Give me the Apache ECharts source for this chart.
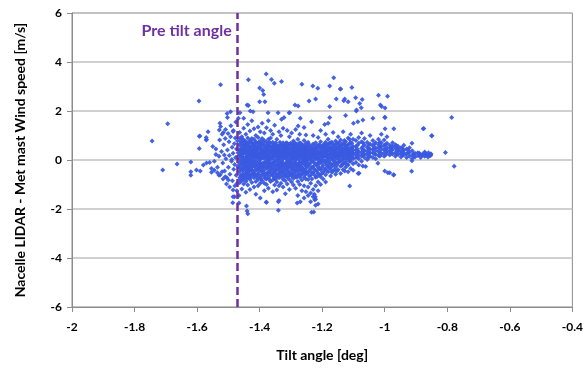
<!DOCTYPE html>
<html>
<head>
<meta charset="utf-8">
<script src="https://cdn.jsdelivr.net/npm/echarts@6/dist/echarts.min.js"></script>
<style>
  html, body { margin: 0; padding: 0; background: #fff; }
  #chart { width: 586px; height: 371px; }
</style>
</head>
<body>
<div id="chart"></div>
<script>
// Tilt angle [deg] vs. (Nacelle LIDAR - Met mast) wind speed difference [m/s]
const xTicks = [-2, -1.8, -1.6, -1.4, -1.2, -1, -0.8, -0.6, -0.4];
const yTicks = [-6, -4, -2, 0, 2, 4, 6];
const preTiltAngle = -1.467;
const preTiltLabel = 'Pre tilt angle';

// isolated points left of the main cloud
const leftPoints = [
  [-1.744,0.78],[-1.694,1.48],[-1.594,2.41],[-1.525,3.07],[-1.710,-0.41],[-1.664,-0.16],
  [-1.620,-0.08],[-1.620,-0.48],[-1.620,-0.62],[-1.593,0.97],[-1.593,0.47],[-1.570,0.84],
  [-1.565,1.15],[-1.580,-0.20],[-1.590,-0.45],[-1.550,0.55],[-1.540,0.45],[-1.602,-0.41],
  [-1.570,-0.12],[-1.560,-0.10],[-1.554,-0.35],[-1.554,-0.50],[-1.571,0.92],[-1.571,0.82],
  [-1.591,0.98],[-1.493,1.97],[-1.504,1.90],[-1.503,1.73],[-1.527,1.50],[-1.525,1.37],
  [-1.529,1.22],[-1.516,1.12],[-1.485,1.16],[-1.545,-0.05],[-1.535,-0.52],[-1.53,-0.62],
  [-1.52,-0.48],[-1.51,-0.68],[-1.50,-0.82],[-1.485,-1.22],[-1.485,-1.50],[-1.486,-1.74],
  [-1.48,-1.50]
];

// points above and below the main cloud
const outerPoints = [
  [-1.436,3.28],[-1.379,3.51],[-1.362,3.29],[-1.353,3.13],[-1.330,3.20],[-1.400,2.94],
  [-1.390,2.84],[-1.387,2.67],[-1.383,2.38],[-1.400,2.38],[-1.440,2.25],[-1.436,2.22],
  [-1.430,2.00],[-1.421,1.97],[-1.287,2.25],[-1.442,-1.88],[-1.440,-2.08],[-1.438,-2.19],
  [-1.379,-1.72],[-1.340,-2.05],[-1.340,-1.70],[-1.163,3.36],[-1.265,3.09],[-1.230,3.02],
  [-1.214,2.93],[-1.176,3.02],[-1.142,2.90],[-1.105,2.96],[-1.020,2.64],[-0.991,2.60],
  [-1.093,2.54],[-1.072,2.47],[-1.080,2.31],[-1.090,2.04],[-1.075,2.13],[-1.014,2.24],
  [-0.999,2.12],[-1.038,1.70],[-0.999,1.73],[-1.128,2.49],[-1.155,2.49],[-1.176,2.18],
  [-1.242,2.41],[-1.221,2.49],[-1.277,2.20],[-1.306,1.93],[-1.270,1.70],[-1.125,1.82],
  [-1.100,1.50],[-0.786,1.73],[-0.877,1.28],[-0.850,0.99],[-0.971,1.28],[-0.999,1.28],
  [-0.806,0.31],[-0.778,-0.26],[-0.913,0.68],[-0.913,-0.03],[-0.914,-0.46],[-0.971,-0.60],
  [-1.000,-0.45],[-0.990,-0.52],[-1.112,-1.06],[-1.085,-0.55],[-0.984,-0.52],[-0.972,-0.61],
  [-1.082,-0.54],[-1.070,-0.24],[-1.061,-0.27],[-1.128,-0.45],[-1.022,-0.13],[-1.234,-2.13],
  [-1.227,-2.12],[-1.213,-1.80],[-1.280,-1.75],[-1.270,-1.70],[-1.225,-1.40],[-1.222,-1.50],
  [-1.224,-1.62],[-1.463,1.93],[-1.451,1.70],[-1.373,1.93],[-1.341,1.93],[-1.322,1.73],
  [-1.330,1.66],[-1.304,1.93],[-1.277,1.39],[-1.258,1.33],[-1.234,1.56],[-1.192,1.45],
  [-1.181,1.50],[-1.141,2.90],[-1.131,2.42],[-1.117,2.38],[-1.091,2.00],[-1.086,1.56],
  [-1.070,1.63],[-1.000,1.74],[-1.176,1.73],[-1.010,2.18],[-0.875,1.29],[-0.849,0.99],
  [-0.872,0.33],[-0.866,0.22],[-0.858,0.16],[-0.852,0.24],[-0.86,0.30]
];

// left shoulder of the main cloud
const shoulderPoints = [
  [-1.522,0.35],[-1.518,-0.12],[-1.515,0.62],[-1.512,-0.45],[-1.51,0.88],[-1.508,0.05],
  [-1.505,-0.72],[-1.503,0.41],[-1.5,-0.3],[-1.498,0.74],[-1.497,0.18],[-1.495,-0.58],
  [-1.493,0.95],[-1.49,-0.05],[-1.488,0.52],[-1.487,-0.85],[-1.485,0.28],[-1.483,-0.38],
  [-1.481,0.66],[-1.48,-0.18],[-1.478,0.9],[-1.477,0.1],[-1.475,-0.62],[-1.474,0.45],
  [-1.472,-0.95],[-1.471,0.78],[-1.47,-0.25],[-1.469,0.3],[-1.53,0.15],[-1.535,-0.3],
  [-1.54,0.22],[-1.545,-0.42],[-1.528,0.82],[-1.526,-0.6],[-1.52,1.05],[-1.517,-0.78],
  [-1.513,0.2],[-1.509,1.25],[-1.506,-0.98],[-1.501,1.08],[-1.496,-1.1],[-1.492,1.4],
  [-1.489,0.02],[-1.484,1.2],[-1.479,-1.05],[-1.476,1.55],[-1.473,-1.25],[-1.468,1.7],
  [-1.466,-1.45],[-1.466,-1.75]
];

// dense core, listed column by column: [tilt, [speed differences]]
const coreColumns = [
  [-1.464,[0.62,0.21,-0.15,-0.48,0.88,-0.72,0.05,0.41,-0.93,-0.31,1.12]],
  [-1.457,[-0.05,0.35,0.71,-0.38,-0.62,0.15,-0.85,0.52,-0.2,0.95,-1.18]],
  [-1.451,[0.28,-0.12,0.58,-0.55,0.02,0.82,-0.33,-0.78,0.43,-0.98,1.3]],
  [-1.444,[-0.25,0.12,0.48,-0.6,0.76,-0.05,-0.88,0.32,0.6,-0.42,1.05,-1.32]],
  [-1.438,[0.05,-0.35,0.38,0.68,-0.7,-0.15,0.9,0.22,-0.52,-1.02,1.45]],
  [-1.431,[-0.18,0.25,-0.45,0.55,0.02,-0.8,0.8,0.4,-0.3,-0.62,1.18,-1.2]],
  [-1.425,[0.1,-0.28,0.45,0.7,-0.58,-0.08,0.3,-0.92,0.88,-0.4,1.6]],
  [-1.418,[-0.1,0.32,-0.5,0.6,0.15,-0.72,0.85,-0.25,0.45,-1.1,1.28]],
  [-1.412,[0.2,-0.38,0.5,-0.05,0.75,-0.65,0.35,-0.2,-0.88,1.0,-1.4]],
  [-1.405,[-0.22,0.08,0.42,-0.55,0.68,0.25,-0.8,-0.35,0.92,-1.05,1.35]],
  [-1.398,[0.15,-0.12,0.55,-0.45,0.3,-0.7,0.78,-0.28,0.02,-0.95,1.15,-1.55]],
  [-1.392,[-0.3,0.4,0.1,-0.6,0.65,-0.15,0.88,-0.85,0.25,-0.45,1.5]],
  [-1.385,[0.05,-0.42,0.33,0.6,-0.2,-0.68,0.8,0.18,-0.95,-1.25,1.1]],
  [-1.378,[-0.08,0.28,-0.55,0.5,0.12,-0.32,0.72,-0.78,0.42,-1.0,1.32,-1.72]],
  [-1.372,[0.22,-0.25,0.58,-0.5,0.02,0.38,-0.72,-0.1,0.85,-1.15,1.6]],
  [-1.365,[-0.15,0.35,-0.4,0.68,0.1,-0.62,0.48,-0.3,0.9,-0.88,1.2]],
  [-1.358,[0.08,-0.32,0.45,-0.6,0.25,0.72,-0.12,-0.82,0.55,-1.3,1.05]],
  [-1.352,[-0.2,0.18,-0.5,0.52,-0.05,0.35,-0.75,0.65,-0.38,-1.02,1.42]],
  [-1.345,[0.12,-0.4,0.3,0.6,-0.18,-0.65,0.45,0.02,-0.9,0.85,-1.22]],
  [-1.338,[-0.1,0.25,-0.55,0.4,0.08,-0.3,0.58,-0.72,0.15,-1.05,1.15,-1.65]],
  [-1.332,[0.18,-0.22,0.48,-0.45,0.32,-0.08,-0.68,0.62,-0.95,1.0]],
  [-1.325,[-0.28,0.05,0.38,-0.5,0.22,-0.12,0.55,-0.8,0.7,-1.1,1.3]],
  [-1.318,[0.1,-0.35,0.45,-0.15,0.25,-0.6,0.6,0.35,-0.85,-1.38]],
  [-1.312,[-0.05,0.3,-0.42,0.15,-0.7,0.5,-0.22,0.68,-0.98,1.2]],
  [-1.305,[0.2,-0.28,0.42,-0.55,0.05,0.6,-0.12,-0.8,0.3,-1.2,0.95]],
  [-1.298,[-0.15,0.12,0.5,-0.38,0.28,-0.65,0.65,-0.02,-0.9,1.1]],
  [-1.292,[0.08,-0.3,0.35,-0.52,0.55,0.18,-0.75,-0.15,0.78,-1.02]],
  [-1.285,[-0.22,0.22,-0.45,0.45,0.02,-0.68,0.62,-0.1,0.32,-1.15,1.25]],
  [-1.278,[0.15,-0.18,0.4,-0.6,0.58,-0.35,0.25,-0.88,0.85,-1.45]],
  [-1.272,[-0.08,0.3,-0.42,0.12,0.5,-0.7,-0.25,0.7,-1.0,1.05]],
  [-1.265,[0.2,-0.3,0.45,-0.12,0.05,-0.55,0.62,0.35,-0.82,-1.25]],
  [-1.258,[-0.15,0.18,0.38,-0.45,0.55,-0.02,-0.7,0.28,0.8,-1.05,-1.55]],
  [-1.252,[0.1,-0.25,0.48,-0.5,0.25,-0.08,0.68,-0.78,-1.3,1.02]],
  [-1.245,[0.15,-0.22,0.5,-0.5,0.02,0.3,-0.8,0.72,-1.1,-1.45]],
  [-1.237,[-0.1,0.25,-0.35,0.55,0.08,-0.62,0.4,-0.95,-1.35,-1.7]],
  [-1.229,[0.12,-0.28,0.45,-0.05,0.65,-0.52,0.3,-1.2,-1.5,1.0]],
  [-1.221,[-0.18,0.2,0.48,-0.42,0.05,-0.7,0.7,-1.05,-1.6,-1.85]],
  [-1.213,[0.08,-0.3,0.35,0.6,-0.1,-0.55,0.22,-0.9,-1.25,0.92]],
  [-1.205,[-0.05,0.28,-0.4,0.52,0.12,-0.68,0.75,-1.0,1.2]],
  [-1.197,[0.18,-0.22,0.42,-0.5,0.6,0.02,-0.78,0.3]],
  [-1.189,[-0.12,0.15,0.5,-0.35,0.32,-0.6,0.72,-0.9,1.05]],
  [-1.181,[0.1,-0.25,0.4,0.62,-0.48,0.2,-0.05,0.85]],
  [-1.173,[-0.15,0.28,0.05,0.5,-0.38,0.7,-0.65,0.38]],
  [-1.165,[0.12,-0.2,0.45,0.25,-0.45,0.65,-0.02,1.12]],
  [-1.157,[-0.08,0.32,0.55,0.15,-0.3,0.78,-0.58,0.42]],
  [-1.149,[0.2,-0.12,0.48,0.05,0.65,-0.4,0.32,0.95]],
  [-1.141,[-0.05,0.38,0.15,0.58,-0.25,0.25,-0.55,0.82]],
  [-1.133,[0.12,0.45,-0.15,0.3,0.68,0.02,-0.4,1.15]],
  [-1.125,[0.25,-0.08,0.52,0.1,0.4,-0.3,0.75,0.6]],
  [-1.117,[0.05,0.35,0.62,-0.2,0.22,0.45,-0.48,0.9]],
  [-1.109,[0.18,0.5,-0.05,0.3,0.72,0.08,-0.35,1.05]],
  [-1.101,[0.3,0.05,0.55,0.2,0.42,-0.15,0.85,-0.42]],
  [-1.092,[0.25,0.55,-0.1,0.8,0.1,0.4]],
  [-1.083,[0.35,0.05,0.68,0.2,-0.2,0.92]],
  [-1.074,[0.15,0.48,0.75,0.3,-0.05,1.1]],
  [-1.065,[0.4,0.1,0.62,0.25,0.88]],
  [-1.056,[0.2,0.52,0.35,0.72,0.02]],
  [-1.047,[0.45,0.15,0.65,0.3,1.0]],
  [-1.038,[0.3,0.58,0.1,0.8,0.42]],
  [-1.029,[0.5,0.22,0.7,0.38,0.05]],
  [-1.020,[0.35,0.62,0.18,0.85,0.48]],
  [-1.011,[0.42,0.25,0.7,0.55,1.05]],
  [-1.002,[0.3,0.6,0.15,0.45,0.82]],
  [-0.993,[0.5,0.28,0.68,0.38,0.95]],
  [-0.984,[0.35,0.6,0.2,0.48]],
  [-0.975,[0.42,0.25,0.7,0.55]],
  [-0.966,[0.3,0.5,0.15,0.62]],
  [-0.957,[0.38,0.22,0.55,0.45]],
  [-0.948,[0.28,0.5,0.12,0.35]],
  [-0.939,[0.4,0.2,0.6,0.3]],
  [-0.930,[0.25,0.45,0.1]],
  [-0.921,[0.32,0.15,0.5]],
  [-0.912,[0.2,0.38,0.05]],
  [-0.903,[0.28,0.12]],
  [-0.894,[0.18,0.3]],
  [-0.885,[0.22,0.1]],
  [-0.872,[0.15,0.28]],
  [-0.862,[0.2,0.12]],
  [-0.853,[0.18,0.25]]
];

// second, interleaved set of core columns (densest band)
const coreColumnsB = [
  [-1.4605,[0.45,-0.05,-0.62,0.18,0.75,-0.35,0.32,-0.82]],
  [-1.4540,[0.1,-0.45,0.62,0.38,-0.18,-0.7,0.25,0.85]],
  [-1.4475,[0.55,-0.3,0.02,0.28,-0.68,0.7,-0.12,0.42]],
  [-1.4410,[-0.08,0.35,-0.5,0.6,0.15,-0.25,0.5,-0.78]],
  [-1.4345,[0.3,-0.2,0.68,-0.62,0.12,0.48,-0.4,-0.02]],
  [-1.4280,[-0.35,0.2,0.55,-0.12,0.38,-0.7,0.05,0.78]],
  [-1.4215,[0.25,-0.45,0.12,0.65,-0.2,0.42,-0.6,-0.05]],
  [-1.4150,[-0.28,0.05,0.52,0.3,-0.58,0.7,-0.12,0.2]],
  [-1.4085,[0.38,-0.15,0.6,-0.42,0.1,0.22,-0.7,0.48]],
  [-1.4020,[-0.05,0.5,-0.32,0.25,0.72,-0.6,0.12,-0.2]],
  [-1.3955,[0.32,-0.38,0.08,0.62,-0.18,0.45,-0.78,0.2]],
  [-1.3890,[-0.12,0.22,0.48,-0.52,0.72,0.1,-0.3,0.35]],
  [-1.3820,[0.4,-0.1,0.15,-0.58,0.55,-0.25,0.28,-0.75]],
  [-1.3750,[-0.35,0.1,0.65,-0.15,0.45,0.25,-0.62,0.02]],
  [-1.3685,[0.15,-0.48,0.35,0.58,-0.05,-0.25,0.72,-0.8]],
  [-1.3615,[0.28,-0.2,0.05,0.52,-0.55,0.4,-0.35,0.15]],
  [-1.3550,[-0.1,0.38,-0.45,0.2,0.6,-0.68,0.1,0.3]],
  [-1.3485,[0.25,-0.28,0.5,-0.05,0.35,-0.55,0.7,-0.78]],
  [-1.3415,[-0.22,0.12,0.55,-0.4,0.3,0.02,-0.62,0.45]],
  [-1.3350,[0.35,-0.15,0.05,0.62,-0.5,0.2,-0.3,0.72]],
  [-1.3285,[-0.05,0.42,-0.38,0.15,0.58,-0.6,0.3,-0.18]],
  [-1.3215,[0.28,-0.45,0.1,0.5,-0.2,0.62,-0.68,0.38]],
  [-1.3150,[-0.15,0.22,0.55,-0.32,0.05,0.4,-0.55,0.7]],
  [-1.3085,[0.35,-0.1,0.18,-0.45,0.62,-0.3,0.48,-0.65]],
  [-1.3015,[-0.28,0.25,0.02,0.45,-0.52,0.68,0.32,-0.1]],
  [-1.2950,[0.12,-0.4,0.42,0.22,-0.2,0.6,-0.62,0.3]],
  [-1.2885,[-0.08,0.3,0.55,-0.35,0.1,-0.58,0.42,0.7]],
  [-1.2815,[0.28,-0.25,0.05,0.48,-0.45,0.65,0.15,-0.7]],
  [-1.2750,[-0.15,0.38,0.2,-0.55,0.6,-0.3,0.02,0.45]],
  [-1.2685,[0.3,-0.12,0.5,-0.4,0.15,0.68,-0.62,-0.2]],
  [-1.2615,[-0.05,0.25,-0.35,0.42,0.1,0.6,-0.5,0.3]],
  [-1.2550,[0.22,-0.4,0.35,0.05,-0.18,0.55,-0.6,0.4]],
  [-1.2485,[-0.1,0.3,0.58,-0.3,0.12,-0.55,0.45,0.0]],
  [-1.2410,[0.2,-0.18,0.4,0.05,0.62,-0.42,0.28,-0.65]],
  [-1.2330,[-0.02,0.35,0.15,-0.3,0.5,-0.5,0.25,-0.78]],
  [-1.2250,[0.25,-0.12,0.45,0.1,-0.38,0.6,-0.6,0.35]],
  [-1.2170,[0.05,0.38,-0.2,0.2,0.55,-0.45,-0.68,0.3]],
  [-1.2090,[0.3,-0.15,0.48,0.0,0.22,-0.35,0.62,-0.6]],
  [-1.2010,[0.12,0.4,-0.3,0.25,0.55,-0.1,-0.55,0.35]],
  [-1.1930,[0.28,-0.05,0.52,0.15,-0.4,0.38,0.65]],
  [-1.1850,[0.02,0.35,-0.2,0.45,0.2,-0.45,0.6]],
  [-1.1770,[0.25,0.5,-0.1,0.15,-0.32,0.4,0.68]],
  [-1.1690,[0.35,0.05,0.55,-0.25,0.2,0.72,-0.5]],
  [-1.1610,[0.18,0.42,-0.12,0.6,0.3,-0.4,0.05]],
  [-1.1530,[0.3,0.08,0.5,-0.2,0.68,0.2,-0.45]],
  [-1.1450,[0.42,0.15,-0.05,0.55,0.28,0.72]],
  [-1.1370,[0.25,0.5,0.02,0.35,-0.22,0.62]],
  [-1.1290,[0.38,0.15,0.6,-0.12,0.28,0.8]],
  [-1.1210,[0.2,0.45,0.05,0.58,0.32,-0.18]],
  [-1.1130,[0.4,0.12,0.65,0.25,0.85,-0.05]],
  [-1.1050,[0.28,0.52,0.1,0.68,0.38]],
  [-1.0875,[0.3,0.6,0.12,0.45]],
  [-1.0695,[0.22,0.55,0.38,0.7]],
  [-1.0515,[0.28,0.6,0.1,0.45]],
  [-1.0335,[0.25,0.48,0.65]],
  [-1.0155,[0.3,0.55,0.15,0.72]],
  [-0.9975,[0.4,0.2,0.62]],
  [-0.9795,[0.3,0.55,0.42]],
  [-0.9615,[0.4,0.25,0.58]],
  [-0.9435,[0.35,0.48,0.2]],
  [-0.9255,[0.3,0.4]],
  [-0.9075,[0.25,0.15]],
  [-0.8895,[0.2,0.28]],
  [-0.8780,[0.18,0.25]]
];

const corePoints = [];
coreColumns.concat(coreColumnsB).forEach(function (col) {
  col[1].forEach(function (v) { corePoints.push([col[0], v]); });
});

const allPoints = leftPoints.concat(outerPoints, shoulderPoints, corePoints);

const labelFont = { fontFamily: 'Lato', fontWeight: 'bold', fontSize: 12, color: '#000' };
const titleFont = { fontFamily: 'Lato', fontWeight: 'bold', fontSize: 14, color: '#000' };

const chart = echarts.init(document.getElementById('chart'), null, { renderer: 'canvas' });
chart.setOption({
  animation: false,
  backgroundColor: '#fff',
  grid: {
    left: 72, right: 13, top: 13, bottom: 64,
    show: true, borderColor: '#8c8c8c', borderWidth: 1, backgroundColor: 'transparent'
  },
  xAxis: {
    type: 'value',
    min: xTicks[0], max: xTicks[xTicks.length - 1], interval: 0.2,
    name: 'Tilt angle [deg]',
    nameLocation: 'middle', nameGap: 41,
    nameTextStyle: titleFont,
    axisLine: { show: true, onZero: false, lineStyle: { color: '#8c8c8c', width: 1 } },
    axisTick: { show: true, length: 5, lineStyle: { color: '#8c8c8c' } },
    axisLabel: Object.assign({ margin: 14, formatter: function (v) { return String(Math.round(v * 10) / 10); } }, labelFont),
    splitLine: { show: false }
  },
  yAxis: {
    type: 'value',
    min: yTicks[0], max: yTicks[yTicks.length - 1], interval: 2,
    name: 'Nacelle LIDAR - Met mast Wind speed [m/s]',
    nameLocation: 'middle', nameGap: 45, nameRotate: 90,
    nameTextStyle: titleFont,
    axisLine: { show: true, lineStyle: { color: '#8c8c8c', width: 1 } },
    axisTick: { show: true, length: 5, lineStyle: { color: '#8c8c8c' } },
    axisLabel: Object.assign({ margin: 10 }, labelFont),
    splitLine: { show: true, lineStyle: { color: '#c0c0c0', width: 1.5 } }
  },
  series: [{
    type: 'scatter',
    data: allPoints,
    symbol: 'diamond',
    symbolSize: 5,
    itemStyle: { color: '#3a5ae0', opacity: 0.95 },
    z: 3,
    markLine: {
      silent: true,
      symbol: ['none', 'none'],
      label: { show: false },
      lineStyle: { color: '#7030a0', width: 2.5, type: [8, 4] },
      data: [{ xAxis: preTiltAngle }],
      z: 4
    },
    markPoint: {
      silent: true,
      symbol: 'circle',
      symbolSize: 0,
      data: [{ coord: [preTiltAngle, 5.28] }],
      label: {
        show: true,
        position: 'left',
        distance: 7,
        formatter: preTiltLabel,
        fontFamily: 'Lato', fontWeight: 'bold', fontSize: 16, color: '#7030a0'
      }
    }
  }]
});
</script>
</body>
</html>
